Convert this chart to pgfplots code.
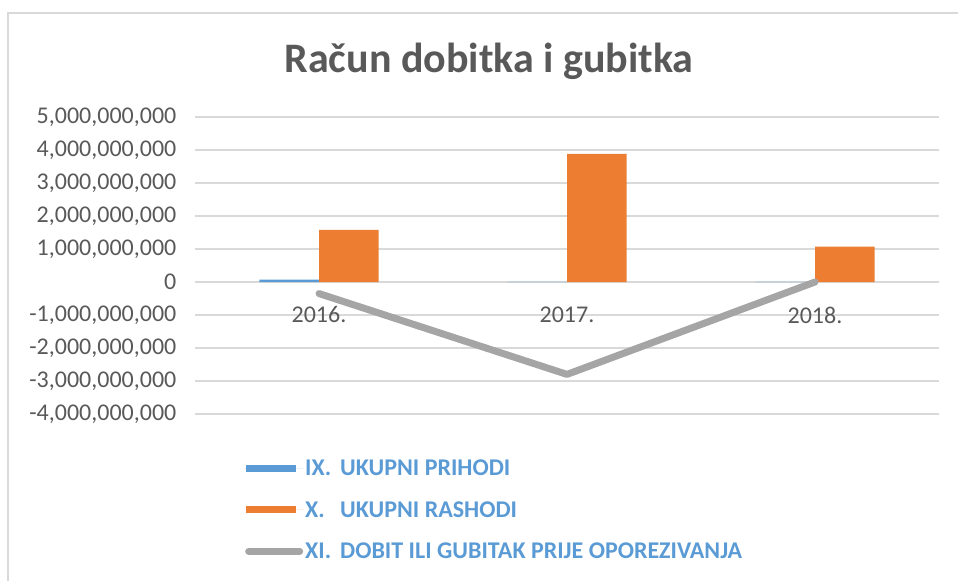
\documentclass[border=0pt]{standalone}
\usepackage{fontspec}
\setmainfont{Carlito}
\usepackage{pgfplots}
\pgfplotsset{compat=1.18}
\definecolor{txtgray}{HTML}{595959}
\definecolor{gridgray}{HTML}{D9D9D9}
\definecolor{xblue}{HTML}{5B9BD5}
\definecolor{xorange}{HTML}{ED7D31}
\definecolor{xgray}{HTML}{A5A5A5}
\definecolor{legblue}{HTML}{5B9BD5}
\begin{document}
\begin{tikzpicture}
\useasboundingbox (0pt,0pt) rectangle (958pt,581pt);
\draw[gridgray, line width=2pt] (8pt,0pt) -- (8pt,568pt) -- (958pt,568pt);
\node[anchor=base, text=txtgray, font=\fontsize{42}{50}\selectfont\bfseries] at (489pt,508pt) {Račun dobitka i gubitka};
\begin{axis}[
    at={(195pt,167pt)}, anchor=south west,
    scale only axis,
    width=744pt, height=297pt,
    xmin=-0.5, xmax=2.5,
    ymin=-4e9, ymax=5e9,
    ytick distance=1e9,
    xtick={0,1,2},
    xticklabels={2016.,2017.,2018.},
    axis x line=middle,
    axis y line=left,
    axis line style={draw=none},
    tick style={draw=none},
    ymajorgrids,
    grid style={gridgray, line width=1.2pt},
    scaled y ticks=false,
    /pgf/number format/.cd, fixed, precision=0, 1000 sep={,}, assume math mode=true,
    /pgfplots/.cd,
    ticklabel style={font=\fontsize{24}{28}\selectfont, text=txtgray},
    yticklabel style={xshift=-13pt},
    xticklabel style={yshift=-19pt},
    legend style={at={(0.0672,-0.323)}, anchor=west, draw=none, fill=none,
        font=\fontsize{24}{28}\selectfont\bfseries, text=legblue,
        row sep=20pt, inner sep=0pt,
        nodes={inner sep=2pt}},
    legend cell align=left,
]
\addplot[ybar, bar width=0.24, bar shift=-0.12, fill=xblue, draw=none,
    legend image code/.code={\path (0pt,0pt) -- (58pt,0pt); \fill[xblue] (1pt,-3.5pt) rectangle (51pt,3.5pt);}]
    coordinates {(0,0.07e9) (1,0.005e9) (2,0.005e9)};
\addlegendentry{\makebox[35pt][l]{IX.}UKUPNI PRIHODI}
\addplot[ybar, bar width=0.24, bar shift=0.12, fill=xorange, draw=none,
    legend image code/.code={\path (0pt,0pt) -- (58pt,0pt); \fill[xorange] (1pt,-3.5pt) rectangle (51pt,3.5pt);}]
    coordinates {(0,1.58e9) (1,3.88e9) (2,1.07e9)};
\addlegendentry{\makebox[35pt][l]{X.}UKUPNI RASHODI}
\addplot[xgray, line width=7pt, line cap=round, line join=round, no marks,
    legend image code/.code={\draw[xgray, line width=7pt, line cap=round] (3.5pt,0pt) -- (54.5pt,0pt);}]
    coordinates {(0,-0.35e9) (1,-2.8e9) (2,0.0e9)};
\addlegendentry{\makebox[35pt][l]{XI.}DOBIT ILI GUBITAK PRIJE OPOREZIVANJA}
\end{axis}
\end{tikzpicture}
\end{document}
